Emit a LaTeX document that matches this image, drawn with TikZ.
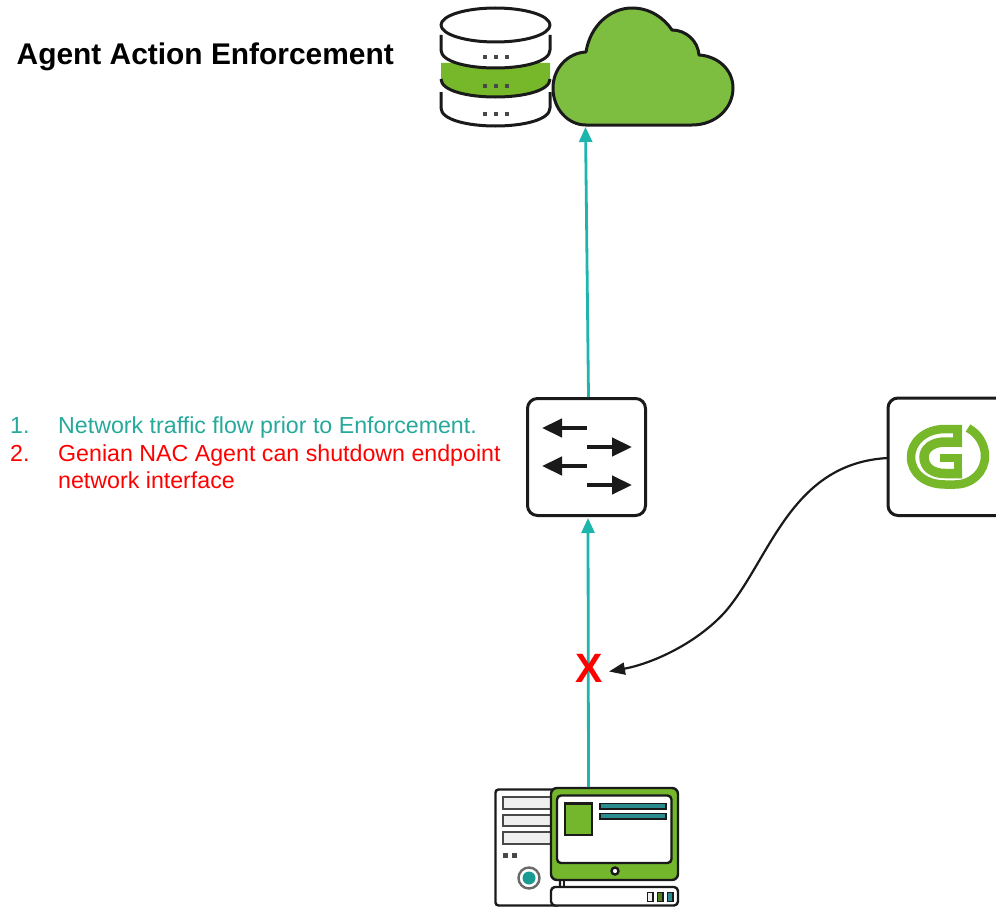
\documentclass[tikz,border=0pt]{standalone}
\usepackage{fontspec}
\setmainfont{Liberation Sans}
\usetikzlibrary{arrows.meta}
\definecolor{teal1}{HTML}{1DB5AC}
\definecolor{tealtext}{HTML}{26A99B}
\definecolor{green1}{HTML}{7DBE41}
\definecolor{green2}{HTML}{74B72C}
\definecolor{green3}{HTML}{76B82A}
\definecolor{tealdark}{HTML}{2A8C8F}
\definecolor{ink}{HTML}{1A1A1A}
\definecolor{liteg}{HTML}{EFEFEF}
\tikzset{
  x=1pt,y=-1pt,
  flow/.style={draw=teal1,line width=2.8pt,-{Triangle[length=15pt,width=13pt]}},
  outl/.style={draw=ink,line width=3pt,line join=round},
  thin outl/.style={draw=ink,line width=2.4pt,line join=round},
  box/.style={draw=ink,line width=3pt,rounded corners=10pt,fill=white},
  sw/.style={draw=ink,line width=4.5pt,-{Triangle[length=20pt,width=18pt]}},
  dots/.style={fill=ink!80!white},
  lbl/.style={inner sep=0pt,anchor=base west,font=\fontsize{23.2}{26}\selectfont},
  logo/.style={draw=green3,line width=8.5pt},
  markx/.style={inner sep=0pt,text=red,font=\fontsize{41}{44}\bfseries\selectfont},
}
\begin{document}
\begin{tikzpicture}
\useasboundingbox (0,0) rectangle (996,907);
% title
\node[inner sep=0pt,anchor=base west,font=\fontsize{29.9}{32}\bfseries\selectfont] (title) at (16.5,65) {Agent Action Enforcement};
% database
\fill[green3] (441,63) -- (441,79) .. controls (441,103) and (550,103) .. (550,79) -- (550,63) -- cycle;
\draw[outl] (441,79) .. controls (441,103) and (550,103) .. (550,79);
\path[fill=white] (441,35) -- (441,50) .. controls (441,74) and (550,74) .. (550,50) -- (550,35) -- cycle;
\draw[outl] (441,35) -- (441,50) .. controls (441,74) and (550,74) .. (550,50) -- (550,35);
\draw[outl,fill=white] (495.5,25) ellipse[x radius=54.5,y radius=17];
\draw[outl] (441,92) -- (441,108) .. controls (441,132) and (550,132) .. (550,108) -- (550,92);
\foreach \yy in {57,86,114}{\foreach \xx in {485,496,507}{\fill[dots] (\xx-2,\yy-2) rectangle (\xx+2,\yy+2);}}
% cloud
\draw[outl,fill=green1] (586,125)
  -- (692,125)
  .. controls (716,125) and (733,108) .. (733,88)
  .. controls (733,69) and (717,56) .. (699,55)
  .. controls (698,41) and (686,30) .. (672,30)
  .. controls (664,18) and (650,8) .. (632,8)
  .. controls (610,8) and (590,26) .. (586,52)
  .. controls (567,53) and (553,69) .. (553,88)
  .. controls (553,109) and (568,125) .. (586,125) -- cycle;
\coordinate (cloudbase) at (585.5,127);
% switch
\node[box,minimum width=118pt,minimum height=117pt,inner sep=0pt] (switch) at (586.5,457) {};
\coordinate (swtop) at (588.5,397);
\coordinate (swbot) at (588,518);
\coordinate (a1s) at (587,428); \coordinate (a1e) at (542,428);
\coordinate (a2s) at (587,447); \coordinate (a2e) at (632,447);
\coordinate (a3s) at (587,466); \coordinate (a3e) at (542,466);
\coordinate (a4s) at (587,485); \coordinate (a4e) at (632,485);
\draw[sw] (a1s) -- (a1e);
\draw[sw] (a2s) -- (a2e);
\draw[sw] (a3s) -- (a3e);
\draw[sw] (a4s) -- (a4e);
% Genian box
\begin{scope}
\clip (0,0) rectangle (996,907);
\draw[box] (1012,398) -- (888,398) -- (888,515.5) -- (1012,515.5);
\end{scope}
\coordinate (genian) at (888,458);
% G logo
\draw[logo] (962,429) -- (945,429) .. controls (925,429) and (911,442) .. (911,457)
  .. controls (911,473) and (925,484.5) .. (945,484.5) -- (955,484.5)
  .. controls (972,484.5) and (985,472) .. (985,456) .. controls (985,445) and (979,434) .. (968,428);
\fill[green3] (953,425) rectangle (962,447);
\draw[draw=green3,line width=9.5pt] (962,442) -- (945,442) .. controls (932,442) and (924,449) .. (924,457)
  .. controls (924,467) and (932,473.5) .. (945,473.5) -- (962,473.5);
\fill[green3] (940,453.5) rectangle (962,462);
\fill[green3] (953.5,453.5) rectangle (962,478);
% computer
\draw[thin outl,fill=white,rounded corners=3pt] (495.5,789.5) rectangle (560,905.5);
\foreach \yy in {797,814.5,832}{\draw[draw=ink!80,line width=2pt,fill=liteg] (503,\yy) rectangle (552,\yy+11.5);}
\fill[ink!80] (503,853) rectangle (508,857.5);
\fill[ink!80] (512,853) rectangle (517,857.5);
\draw[draw=ink!65,line width=2.4pt,fill=white] (529,878) circle (10.5);
\fill[teal1!85!black] (529,878) circle (6.5);
\draw[thin outl,fill=white,rounded corners=4pt] (551,887) rectangle (678,905.5);
\draw[draw=ink,line width=1.8pt,fill=liteg] (647.5,892.5) rectangle (653,901.5);
\draw[draw=ink,line width=1.8pt,fill=green2!70!black] (657.5,892.5) rectangle (663,901.5);
\draw[draw=ink,line width=1.8pt,fill=tealdark] (667.5,892.5) rectangle (673,901.5);
\draw[thin outl] (564,879) -- (564,887);
\node[draw=ink,line width=2.4pt,rounded corners=6pt,fill=green2,inner sep=0pt,minimum width=127pt,minimum height=92pt] (screen) at (614.5,834) {};
\coordinate (scrtop) at (588.5,787);
\draw[draw=ink,line width=2.4pt,fill=white,rounded corners=4pt] (557,795.5) rectangle (671.5,863);
\draw[draw=ink,line width=2.4pt,fill=green2] (565,803.5) rectangle (592,835);
\draw[draw=ink,line width=1.8pt,fill=tealdark] (600,803.5) rectangle (666,809);
\draw[draw=ink,line width=1.8pt,fill=tealdark] (600,813.5) rectangle (666,819);
\draw[draw=ink,line width=2.4pt,fill=white] (615,871) circle (3.5);
% flows
\draw[flow] (swtop) -- (cloudbase);
\draw[flow] (scrtop) -- (swbot);
\node[markx] (cross) at (589.5,668) {X};
\coordinate (xtip) at (609,671.5);
% action
\draw[draw=ink,line width=2.2pt,-{Triangle[length=16pt,width=12pt]}] (genian) .. controls (790,463) and (770,560) .. (725,612) .. controls (695,645) and (650,664) .. (xtip);
% text
\node[lbl,text=tealtext] (n1) at (10,433.5) {1.};
\node[lbl,text=tealtext] (t1) at (58,433.5) {Network traffic flow prior to Enforcement.};
\node[lbl,text=red] (n2) at (10,461) {2.};
\node[lbl,text=red] (t2) at (58,461) {Genian NAC Agent can shutdown endpoint};
\node[lbl,text=red] (t3) at (58,488) {network interface};
\end{tikzpicture}
\end{document}
